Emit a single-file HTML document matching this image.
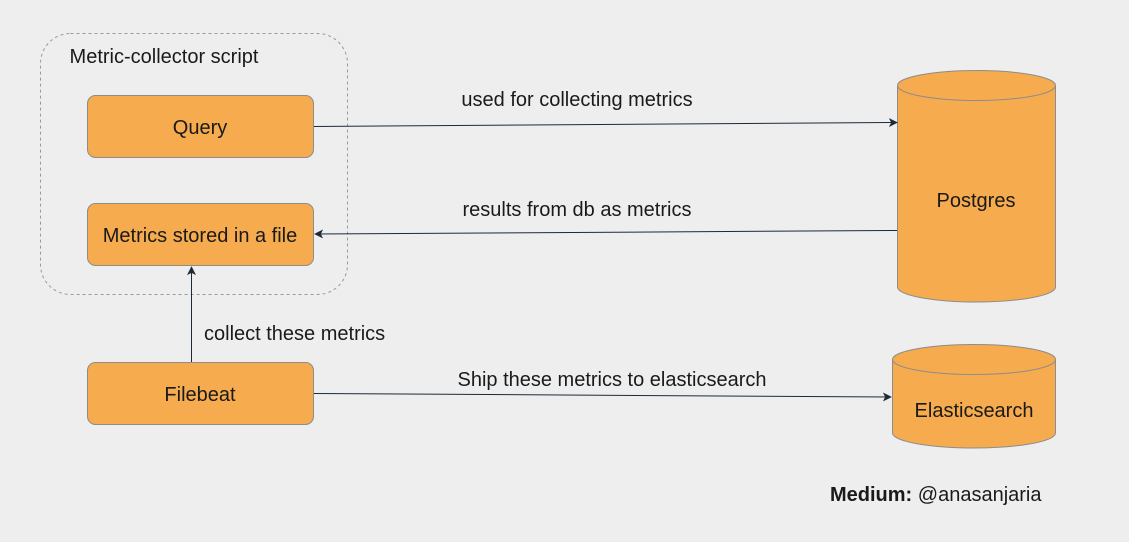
<!DOCTYPE html>
<html><head><meta charset="utf-8"><style>
html,body{margin:0;padding:0;background:#eeeeee;}
svg{display:block;font-family:"Liberation Sans",Arial,sans-serif;}
</style></head><body>
<svg width="1129" height="542" viewBox="0 0 1129 542" xmlns="http://www.w3.org/2000/svg">
<defs>
<marker id="a" viewBox="0 0 10 10" refX="9" refY="5" markerWidth="9" markerHeight="9" orient="auto" markerUnits="userSpaceOnUse">
<path d="M0,0 L10,5 L0,10 L2.5,5 z" fill="#1c2b3a"/></marker>
</defs>
<rect width="1129" height="542" fill="#eeeeee"/>
<rect x="40.5" y="33.5" width="307" height="261" rx="30" fill="none" stroke="#9a9a9a" stroke-dasharray="3,3"/>
<text x="164" y="63" font-size="20" text-anchor="middle" fill="#1a1a1a">Metric-collector script</text>
<rect x="87.5" y="95.5" width="226" height="62" rx="8" fill="#f5ab4e" stroke="#8c8c8c"/>
<text x="200" y="134" font-size="20" text-anchor="middle" fill="#1a1a1a">Query</text>
<rect x="87.5" y="203.5" width="226" height="62" rx="8" fill="#f5ab4e" stroke="#8c8c8c"/>
<text x="200" y="242" font-size="20" text-anchor="middle" fill="#1a1a1a">Metrics stored in a file</text>
<rect x="87.5" y="362.5" width="226" height="62" rx="8" fill="#f5ab4e" stroke="#8c8c8c"/>
<text x="200" y="401" font-size="20" text-anchor="middle" fill="#1a1a1a">Filebeat</text>
<!-- Postgres -->
<path d="M897.5,85.5 L897.5,287 A79,15 0 0 0 1055.5,287 L1055.5,85.5" fill="#f5ab4e" stroke="#8c8c8c"/>
<ellipse cx="976.5" cy="85.5" rx="79" ry="15" fill="#f5ab4e" stroke="#8c8c8c"/>
<text x="976" y="207" font-size="20" text-anchor="middle" fill="#1a1a1a">Postgres</text>
<!-- Elasticsearch -->
<path d="M892.5,359.5 L892.5,433 A81.5,15 0 0 0 1055.5,433 L1055.5,359.5" fill="#f5ab4e" stroke="#8c8c8c"/>
<ellipse cx="974" cy="359.5" rx="81.5" ry="15" fill="#f5ab4e" stroke="#8c8c8c"/>
<text x="974" y="417" font-size="20" text-anchor="middle" fill="#1a1a1a">Elasticsearch</text>
<!-- connectors -->
<line x1="314" y1="126.5" x2="897" y2="122.5" stroke="#1c2b3a" marker-end="url(#a)"/>
<line x1="897" y1="230.5" x2="315" y2="234" stroke="#1c2b3a" marker-end="url(#a)"/>
<line x1="191.5" y1="362" x2="191.5" y2="267" stroke="#1c2b3a" marker-end="url(#a)"/>
<line x1="314" y1="393.5" x2="891" y2="397" stroke="#1c2b3a" marker-end="url(#a)"/>
<text x="577" y="106" font-size="20" text-anchor="middle" fill="#1a1a1a">used for collecting metrics</text>
<text x="577" y="216" font-size="20" text-anchor="middle" fill="#1a1a1a">results from db as metrics</text>
<text x="204" y="340" font-size="20" fill="#1a1a1a">collect these metrics</text>
<text x="612" y="386" font-size="20" text-anchor="middle" fill="#1a1a1a">Ship these metrics to elasticsearch</text>
<text x="830" y="501" font-size="20" fill="#1a1a1a"><tspan font-weight="bold">Medium:</tspan> @anasanjaria</text>
</svg>
</body></html>
